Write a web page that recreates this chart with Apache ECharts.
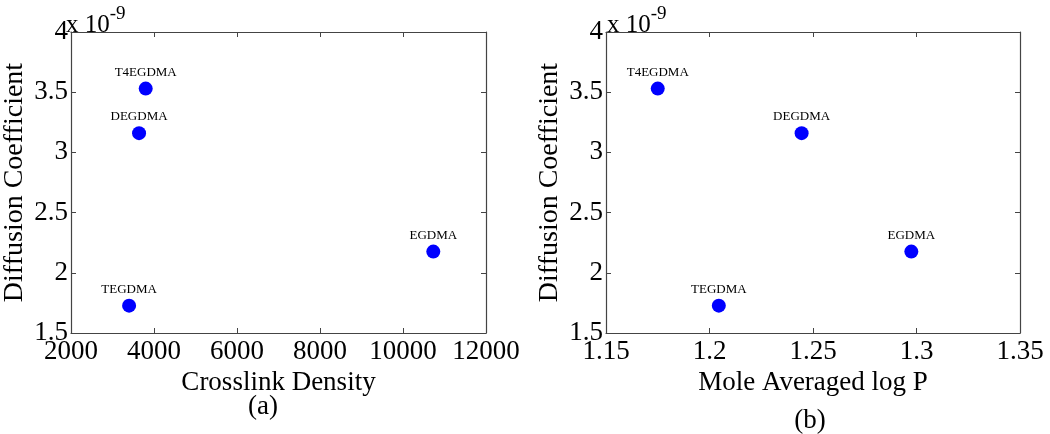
<!DOCTYPE html>
<html><head><meta charset="utf-8">
<script src="https://cdn.jsdelivr.net/npm/echarts@6/dist/echarts.min.js"></script>
<style>html,body{margin:0;padding:0;background:#fff}#c{width:1050px;height:434px}</style>
</head><body><div id="c"></div>
<script>
// Data
const names = ['T4EGDMA', 'DEGDMA', 'TEGDMA', 'EGDMA'];
const crosslinkDensity = [3800, 3640, 3400, 10730];
const moleAvgLogP = [1.175, 1.2445, 1.2045, 1.2975];
const diffusionCoef = [3.53, 3.16, 1.727, 2.176]; // x 10^-9
const yRange = [1.5, 4, 0.5];
const xRangeA = [2000, 12000, 2000];
const xRangeB = [1.15, 1.35, 0.05];

const FONT = 'Liberation Serif';
const AX = '#444';

function xAxis(gi, r, pos, name, gap) {
  const main = pos === 'bottom';
  return {
    type: 'value', gridIndex: gi, position: pos, min: r[0], max: r[1], interval: r[2],
    name: main ? name : '', nameLocation: 'middle', nameGap: gap,
    nameTextStyle: { fontFamily: FONT, fontSize: 27, color: '#000' },
    axisLine: { show: true, onZero: false, lineStyle: { color: AX, width: 1.2 } },
    axisTick: { show: true, inside: true, length: 5, lineStyle: { color: AX } },
    axisLabel: { show: main, margin: 5, fontFamily: FONT, fontSize: 27, color: '#000',
      formatter: v => String(+v.toFixed(4)) },
    splitLine: { show: false }
  };
}
function yAxis(gi, pos) {
  const main = pos === 'left';
  return {
    type: 'value', gridIndex: gi, position: pos, min: yRange[0], max: yRange[1], interval: yRange[2],
    name: main ? 'Diffusion Coefficient' : '', nameLocation: 'middle', nameGap: 42, nameRotate: 90,
    nameTextStyle: { fontFamily: FONT, fontSize: 28, color: '#000' },
    axisLine: { show: true, onZero: false, lineStyle: { color: AX, width: 1.2 } },
    axisTick: { show: true, inside: true, length: 5, lineStyle: { color: AX } },
    axisLabel: { show: main, margin: 3, fontFamily: FONT, fontSize: 27, color: '#000',
      formatter: v => String(+v.toFixed(4)) },
    splitLine: { show: false }
  };
}
function series(xi, yi, xs) {
  return {
    type: 'scatter', xAxisIndex: xi, yAxisIndex: yi, symbol: 'circle', symbolSize: 14,
    itemStyle: { color: '#0000ff', opacity: 1 },
    data: xs.map((x, i) => [x, diffusionCoef[i]]),
    label: { show: true, position: 'top', distance: 3, fontFamily: FONT, fontSize: 13, color: '#000',
      formatter: p => names[p.dataIndex] }
  };
}
const rich = {
  a: { fontFamily: FONT, fontSize: 25, fill: '#000', verticalAlign: 'bottom' },
  b: { fontFamily: FONT, fontSize: 19, fill: '#000', padding: [0, 0, 14, 0], verticalAlign: 'bottom' }
};
const chart = echarts.init(document.getElementById('c'), null, { renderer: 'canvas' });
chart.setOption({
  animation: false,
  backgroundColor: '#fff',
  grid: [
    { left: 65, right: 564, top: 32, bottom: 101 },
    { left: 606, right: 30, top: 32, bottom: 101 }
  ],
  xAxis: [
    xAxis(0, xRangeA, 'bottom', 'Crosslink Density', 31),
    xAxis(0, xRangeA, 'top', '', 0),
    xAxis(1, xRangeB, 'bottom', 'Mole Averaged log P', 28),
    xAxis(1, xRangeB, 'top', '', 0)
  ],
  yAxis: [yAxis(0, 'left'), yAxis(0, 'right'), yAxis(1, 'left'), yAxis(1, 'right')],
  series: [series(0, 0, crosslinkDensity), series(2, 2, moleAvgLogP)],
  graphic: [
    { type: 'text', left: 66, top: 5, style: { text: '{a|x 10}{b|-9}', rich } },
    { type: 'text', left: 607, top: 5, style: { text: '{a|x 10}{b|-9}', rich } },
    { type: 'text', x: 263, y: 407, style: { text: '(a)', fontFamily: FONT, fontSize: 27, fill: '#000', align: 'center', verticalAlign: 'middle' } },
    { type: 'text', x: 810, y: 421, style: { text: '(b)', fontFamily: FONT, fontSize: 27, fill: '#000', align: 'center', verticalAlign: 'middle' } }
  ]
});
</script></body></html>
